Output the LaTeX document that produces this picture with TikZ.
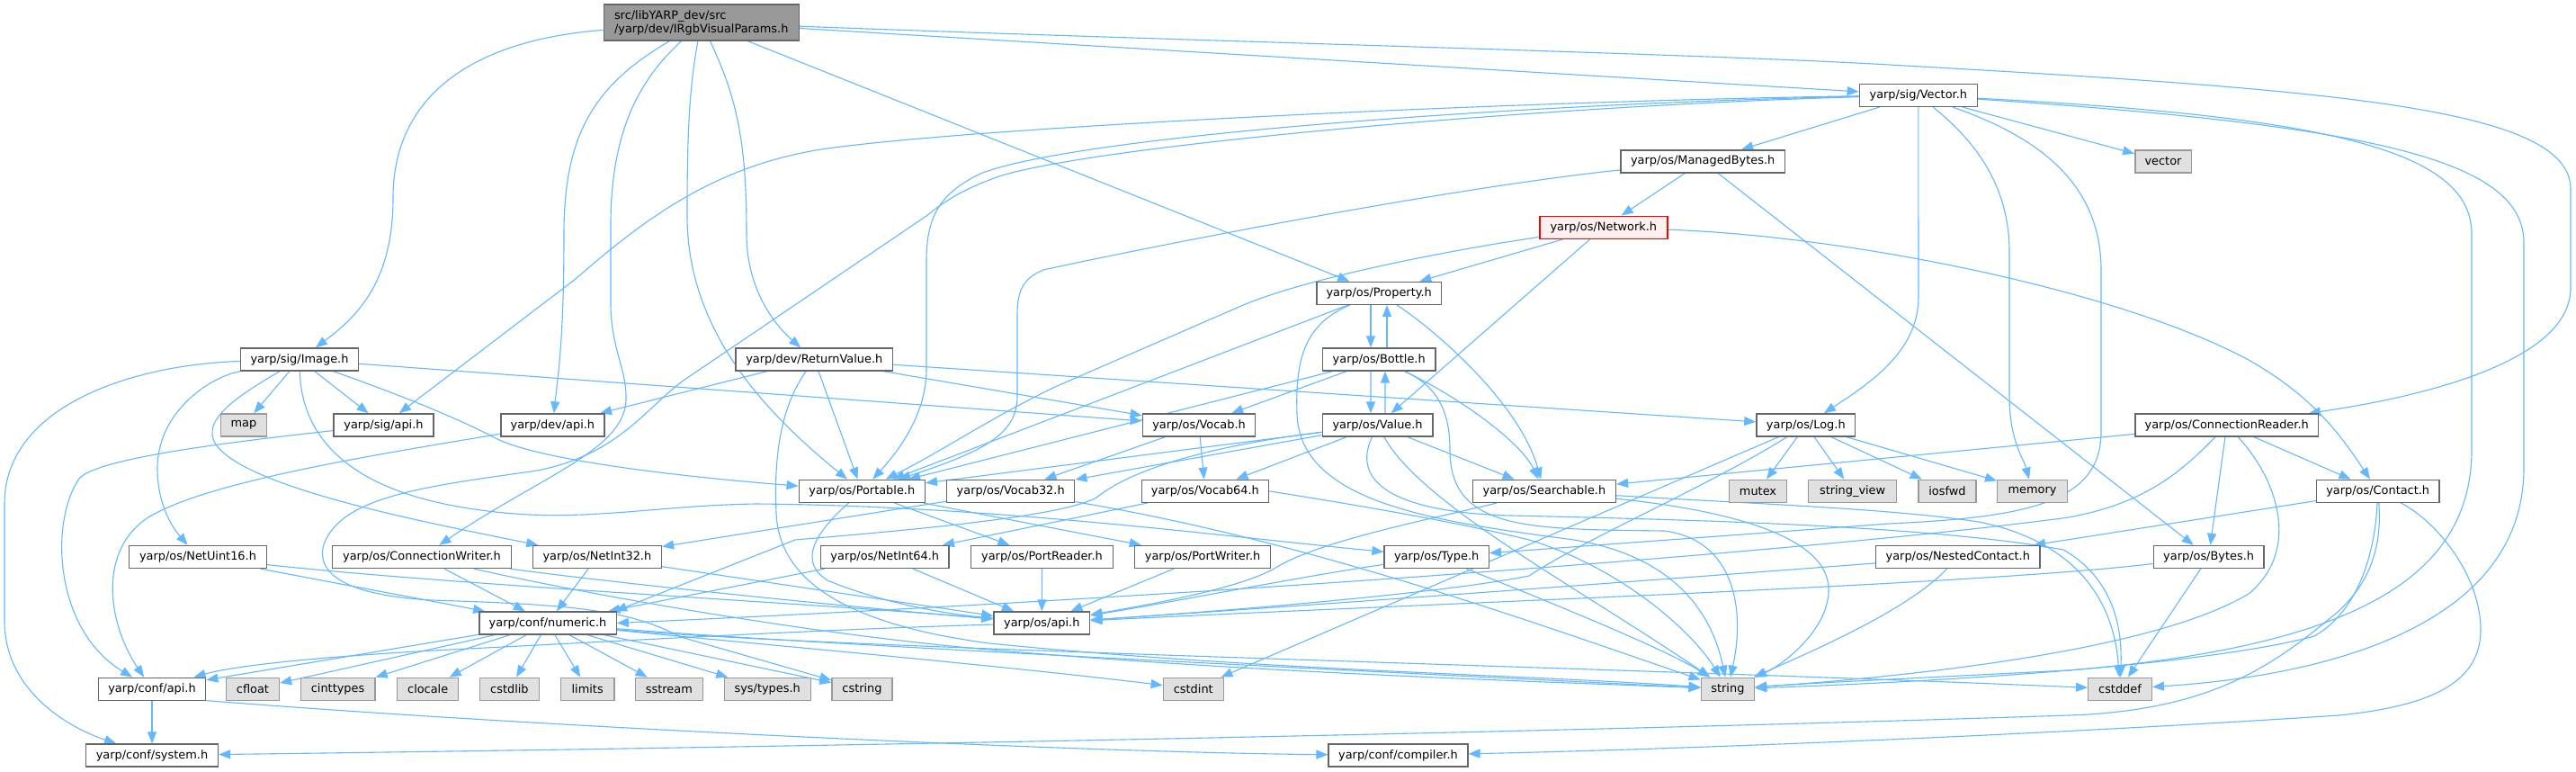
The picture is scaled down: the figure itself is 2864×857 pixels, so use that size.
\documentclass[tikz,border=0pt]{standalone}
\usepackage{fontspec}
\setmainfont{DejaVu Sans}
\usetikzlibrary{arrows.meta}
\definecolor{edgec}{HTML}{63B8FF}
\definecolor{bord}{HTML}{666666}
\definecolor{gbord}{HTML}{999999}
\definecolor{gfill}{HTML}{E0E0E0}
\definecolor{rootfill}{HTML}{999999}
\definecolor{redfill}{HTML}{FFF0F0}
\definecolor{redbord}{HTML}{FF0000}
\pgfdeclarelayer{bg}
\pgfsetlayers{bg,main}
\tikzset{
  box/.style={draw=bord, fill=white, line width=0.7pt, minimum height=12.5pt, inner sep=0pt,
    font=\fontsize{6.45pt}{7.5pt}\selectfont, text=black},
  sysbox/.style={box, draw=gbord, fill=gfill},
  rootbox/.style={box, fill=rootfill, minimum height=20pt, align=left},
  redbox/.style={box, draw=redbord, fill=redfill},
  e/.style={draw=edgec, line width=0.55pt, -{Triangle[length=6.5pt,width=5pt]}},
}
\begin{document}
\begin{tikzpicture}[x=0.5pt,y=-0.5pt]
\useasboundingbox (0,0) rectangle (2864,857);

% ---------- nodes ----------
\node[rootbox, minimum width=108.5pt] (root) at (779.7,25) {src/libYARP\_dev/src\\/yarp/dev/IRgbVisualParams.h};
\node[box, minimum width=65.5pt] (Vector) at (2132.8,105.8) {yarp/sig/Vector.h};
\node[box, minimum width=91.4pt] (ManagedBytes) at (1893.2,179.3) {yarp/os/ManagedBytes.h};
\node[sysbox, minimum width=31.2pt] (vector) at (2405,179.3) {vector};
\node[redbox, minimum width=71pt] (Network) at (1782.8,252.7) {yarp/os/Network.h};
\node[box, minimum width=69.4pt] (Property) at (1533.2,325.8) {yarp/os/Property.h};
\node[box, minimum width=65.5pt] (Image) at (333,399.5) {yarp/sig/Image.h};
\node[box, minimum width=87.3pt] (ReturnValue) at (905.3,399.5) {yarp/dev/ReturnValue.h};
\node[box, minimum width=62.9pt] (Bottle) at (1533.2,399.5) {yarp/os/Bottle.h};
\node[sysbox, minimum width=25.3pt] (map) at (271,472.5) {map};
\node[box, minimum width=55.5pt] (sigapi) at (426.5,472.5) {yarp/sig/api.h};
\node[box, minimum width=57.5pt] (devapi) at (614.4,472.5) {yarp/dev/api.h};
\node[box, minimum width=62.7pt] (Vocab) at (1333,472.5) {yarp/os/Vocab.h};
\node[box, minimum width=61.3pt] (Value) at (1531.6,472.5) {yarp/os/Value.h};
\node[box, minimum width=54.9pt] (Log) at (2007.8,472.5) {yarp/os/Log.h};
\node[box, minimum width=101.9pt] (ConnReader) at (2475.7,472.5) {yarp/os/ConnectionReader.h};
\node[box, minimum width=70pt] (Portable) at (958.3,545.8) {yarp/os/Portable.h};
\node[box, minimum width=71pt] (Vocab32) at (1123.7,545.8) {yarp/os/Vocab32.h};
\node[box, minimum width=70.5pt] (Vocab64) at (1339.9,545.8) {yarp/os/Vocab64.h};
\node[box, minimum width=79.5pt] (Searchable) at (1716.9,545.8) {yarp/os/Searchable.h};
\node[sysbox, minimum width=31.9pt] (mutex) at (1954.5,545.8) {mutex};
\node[sysbox, minimum width=48.9pt] (stringview) at (2059.6,545.8) {string\_view};
\node[sysbox, minimum width=31.9pt] (iosfwd) at (2165,545.8) {iosfwd};
\node[sysbox, minimum width=38.8pt] (memory) at (2259.5,545.8) {memory};
\node[box, minimum width=68.2pt] (Contact) at (2643.7,545.8) {yarp/os/Contact.h};
\node[box, minimum width=76.3pt] (NetUint16) at (220,619) {yarp/os/NetUint16.h};
\node[box, minimum width=99.5pt] (ConnWriter) at (469,619) {yarp/os/ConnectionWriter.h};
\node[box, minimum width=71.5pt] (NetInt32) at (663.9,619) {yarp/os/NetInt32.h};
\node[box, minimum width=71.2pt] (NetInt64) at (983.8,619) {yarp/os/NetInt64.h};
\node[box, minimum width=78.8pt] (PortReader) at (1158.5,619) {yarp/os/PortReader.h};
\node[box, minimum width=75.5pt] (PortWriter) at (1337.1,619) {yarp/os/PortWriter.h};
\node[box, minimum width=58.1pt] (Type) at (1597.2,619) {yarp/os/Type.h};
\node[box, minimum width=91.2pt] (NestedContact) at (2176.8,619) {yarp/os/NestedContact.h};
\node[box, minimum width=61.4pt] (Bytes) at (2455.6,619) {yarp/os/Bytes.h};
\node[box, minimum width=76.2pt] (numeric) at (609,692.5) {yarp/conf/numeric.h};
\node[box, minimum width=53.3pt] (osapi) at (1158.3,692.5) {yarp/os/api.h};
\node[box, minimum width=59.7pt] (confapi) at (169,765.8) {yarp/conf/api.h};
\node[sysbox, minimum width=29.5pt] (cfloat) at (281,765.8) {cfloat};
\node[sysbox, minimum width=41.4pt] (cinttypes) at (375.6,765.8) {cinttypes};
\node[sysbox, minimum width=34pt] (clocale) at (475.7,765.8) {clocale};
\node[sysbox, minimum width=32.9pt] (cstdlib) at (566.4,765.8) {cstdlib};
\node[sysbox, minimum width=29.6pt] (limits) at (653.2,765.8) {limits};
\node[sysbox, minimum width=37.5pt] (sstream) at (743.9,765.8) {sstream};
\node[sysbox, minimum width=48pt] (systypes) at (853.2,765.8) {sys/types.h};
\node[sysbox, minimum width=33.5pt] (cstring) at (958.5,765.8) {cstring};
\node[sysbox, minimum width=33.5pt] (cstdint) at (1326.8,765.8) {cstdint};
\node[sysbox, minimum width=29.6pt] (string) at (1920.9,765.8) {string};
\node[sysbox, minimum width=35.3pt] (cstddef) at (2357,765.8) {cstddef};
\node[box, minimum width=73.5pt] (system) at (169,839.5) {yarp/conf/system.h};
\node[box, minimum width=77.4pt] (compiler) at (1554.5,839.5) {yarp/conf/compiler.h};

% ---------- edges ----------
\begin{pgfonlayer}{bg}
\fill[white] (0,0) rectangle (2864,857);
% root
\draw[e] (root) .. controls (520,45) and (437,110) .. (437,220) .. controls (437,310) and (400,350) .. (Image);
\draw[e] (root) .. controls (660,95) and (627,150) .. (627,260) .. controls (627,380) and (620,420) .. (devapi);
\draw[e] (root) .. controls (715,85) and (679,140) .. (679,250) -- (679,340) .. controls (680,390) and (697,410) .. (696,445) .. controls (694,500) and (600,530) .. (ConnWriter);
\draw[e] (root) .. controls (766,100) and (764,150) .. (764,240) .. controls (764,360) and (840,450) .. (Portable);
\draw[e] (root) .. controls (820,110) and (830,160) .. (830,260) .. controls (830,320) and (860,360) .. (ReturnValue);
\draw[e] (root) -- (Property);
\draw[e] (root) .. controls (1300,45) and (1900,60) .. (2100,72) .. controls (2600,100) and (2858,120) .. (2858,210) -- (2858,320) .. controls (2858,400) and (2700,440) .. (ConnReader);
\draw[e] (root) -- (Vector);
% Image
\draw[e] (Image) .. controls (150,405) and (5,450) .. (5,560) -- (5,690) .. controls (5,770) and (80,810) .. (system);
\draw[e] (Image) .. controls (230,420) and (175,460) .. (175,520) .. controls (175,565) and (195,590) .. (NetUint16);
\draw[e] (Image) .. controls (265,440) and (215,470) .. (245,500) .. controls (290,545) and (470,580) .. (NetInt32);
\draw[e] (Image) -- (map);
\draw[e] (Image) .. controls (335,480) and (380,545) .. (528,566) .. controls (640,583) and (720,562) .. (840,560) .. controls (1100,562) and (1350,595) .. (Type);
\draw[e] (Image) -- (sigapi);
\draw[e] (Image) .. controls (420,430) and (500,460) .. (551,487) .. controls (600,512) and (760,530) .. (Portable);
\draw[e] (Image) -- (Vocab);
% api
\draw[e] (sigapi) .. controls (220,495) and (105,512) .. (88,532) .. controls (55,580) and (60,700) .. (confapi);
\draw[e] (devapi) .. controls (420,505) and (230,535) .. (165,575) .. controls (110,610) and (118,690) .. (confapi);
% ReturnValue
\draw[e] (ReturnValue) -- (devapi);
\draw[e] (ReturnValue) -- (Portable);
\draw[e] (ReturnValue) -- (Vocab);
\draw[e] (ReturnValue) -- (Log);
\draw[e] (ReturnValue) .. controls (870,450) and (860,500) .. (863,570) .. controls (866,650) and (950,695) .. (1100,715) .. controls (1400,745) and (1700,750) .. (string);
% Vector
\draw[e] (Vector) -- (ManagedBytes);
\draw[e] (Vector) -- (vector);
\draw[e] (Vector) .. controls (1700,112) and (1100,140) .. (920,165) .. controls (800,182) and (720,240) .. (640,310) -- (sigapi);
\draw[e] (Vector) .. controls (1700,115) and (1200,150) .. (1090,193) .. controls (1045,215) and (1030,240) .. (1030,290) -- (1030,410) .. controls (1030,460) and (1000,500) .. (Portable);
\draw[e] (Vector) .. controls (1700,118) and (1180,165) .. (1100,200) .. controls (1060,215) and (1040,232) .. (1030,240) -- (764,420) .. controls (720,450) and (690,505) .. (597,523) .. controls (480,540) and (380,550) .. (360,605) .. controls (350,640) and (390,662) .. (480,667) .. controls (640,672) and (700,678) .. (757,708) -- (cstring);
\draw[e] (Vector) -- (2133,330) .. controls (2133,390) and (2080,425) .. (Log);
\draw[e] (Vector) .. controls (2200,160) and (2234,210) .. (2234,280) -- (2234,440) .. controls (2234,490) and (2250,510) .. (memory);
\draw[e] (Vector) .. controls (2260,150) and (2336,200) .. (2336,300) -- (2336,480) .. controls (2336,560) and (2250,575) .. (2100,582) -- (Type);
\draw[e] (Vector) .. controls (2600,130) and (2748,170) .. (2748,260) -- (2748,500) .. controls (2748,650) and (2600,720) .. (2300,745) .. controls (2100,755) and (2000,760) .. (string);
\draw[e] (Vector) .. controls (2650,140) and (2806,180) .. (2806,270) -- (2806,520) .. controls (2806,690) and (2600,750) .. (cstddef);
% ManagedBytes
\draw[e] (ManagedBytes) -- (Network);
\draw[e] (ManagedBytes) -- (Bytes);
\draw[e] (ManagedBytes) .. controls (1600,210) and (1250,280) .. (1160,300) .. controls (1135,310) and (1131,327) .. (1131,350) -- (1131,440) .. controls (1131,480) and (1100,500) .. (Portable);
% Network
\draw[e] (Network) -- (Property);
\draw[e] (Network) -- (Value);
\draw[e] (Network) .. controls (1600,280) and (1450,310) .. (1380,340) -- (1173,430) .. controls (1100,465) and (1050,500) .. (Portable);
\draw[e] (Network) .. controls (2050,262) and (2350,320) .. (2500,400) .. controls (2570,440) and (2600,480) .. (Contact);
% Property
\draw[e] ([xshift=-4.6pt]Property.south) -- ([xshift=-4.6pt]Bottle.north);
\draw[e] ([xshift=4.4pt]Bottle.north) -- ([xshift=4.4pt]Property.south);
\draw[e] (Property) -- (Portable);
\draw[e] (Property) .. controls (1600,370) and (1690,450) .. (Searchable);
\draw[e] (Property) .. controls (1450,360) and (1440,400) .. (1442,460) .. controls (1445,560) and (1600,580) .. (1750,600) .. controls (1870,620) and (1905,690) .. (string);
% Bottle
\draw[e] ([xshift=-4.6pt]Bottle.south) -- ([xshift=-3.8pt]Value.north);
\draw[e] ([xshift=4.2pt]Value.north) -- ([xshift=3.4pt]Bottle.south);
\draw[e] (Bottle) -- (Portable);
\draw[e] (Bottle) -- (Vocab);
\draw[e] (Bottle) .. controls (1620,440) and (1690,490) .. (Searchable);
\draw[e] (Bottle) .. controls (1600,430) and (1612,460) .. (1612,500) .. controls (1612,590) and (1700,588) .. (1850,590) .. controls (1930,600) and (1940,680) .. (string);
% Value
\draw[e] (Value) -- (Portable);
\draw[e] (Value) -- (Vocab32);
\draw[e] (Value) -- (Vocab64);
\draw[e] (Value) -- (Searchable);
\draw[e] (Value) .. controls (1350,495) and (1260,520) .. (1219,553) .. controls (1180,575) and (1000,590) .. (884,600) -- (numeric.10);
\draw[e] (Value) .. controls (1580,560) and (1750,650) .. (string);
\draw[e] (Value) .. controls (1500,540) and (1560,570) .. (1680,573) .. controls (1900,578) and (2150,585) .. (2294,611) .. controls (2345,640) and (2360,690) .. (cstddef);
% Searchable
\draw[e] (Searchable) .. controls (1600,575) and (1470,600) .. (1420,630) .. controls (1380,655) and (1260,675) .. (osapi);
\draw[e] (Searchable) .. controls (1900,565) and (2030,590) .. (2033,653) .. controls (2035,700) and (1980,740) .. (string);
\draw[e] (Searchable) .. controls (1950,560) and (2100,565) .. (2200,580) .. controls (2300,600) and (2350,660) .. (cstddef);
% Log
\draw[e] (Log) -- (mutex);
\draw[e] (Log) -- (stringview);
\draw[e] (Log) -- (iosfwd);
\draw[e] (Log) -- (memory);
\draw[e] (Log) -- (cstdint);
\draw[e] (Log) .. controls (1900,540) and (1760,600) .. (1700,640) .. controls (1600,660) and (1350,680) .. (osapi);
% ConnectionReader
\draw[e] (ConnReader) -- (Searchable);
\draw[e] (ConnReader) -- (Bytes);
\draw[e] (ConnReader) -- (Contact);
\draw[e] (ConnReader) .. controls (2420,530) and (2380,560) .. (2300,575) .. controls (2000,615) and (1300,665) .. (numeric.east);
\draw[e] (ConnReader) .. controls (2530,530) and (2560,610) .. (2500,660) .. controls (2400,720) and (2150,750) .. (string);
% Contact
\draw[e] (Contact) -- (NestedContact);
\draw[e] (Contact) .. controls (2640,620) and (2620,680) .. (2573,707) .. controls (2450,740) and (2150,758) .. (string);
\draw[e] (Contact) .. controls (2648,600) and (2640,650) .. (2587,690) .. controls (2520,745) and (2450,790) .. (2300,795) .. controls (1700,815) and (900,830) .. (system);
\draw[e] (Contact) .. controls (2710,580) and (2758,640) .. (2758,700) .. controls (2758,760) and (2700,785) .. (2600,795) .. controls (2300,815) and (1900,832) .. (compiler);
% Bytes, NestedContact, Type
\draw[e] (Bytes) -- (cstddef);
\draw[e] (Bytes) .. controls (2200,650) and (1600,670) .. (osapi);
\draw[e] (NestedContact) .. controls (2120,680) and (2000,730) .. (string);
\draw[e] (NestedContact) .. controls (1900,640) and (1500,670) .. (osapi);
\draw[e] (Type) .. controls (1450,640) and (1300,670) .. (osapi);
\draw[e] (Type) .. controls (1700,660) and (1850,720) .. (string);
% Portable
\draw[e] (Portable) -- (PortReader);
\draw[e] (Portable) -- (PortWriter);
\draw[e] (Portable) .. controls (920,580) and (880,620) .. (920,645) .. controls (980,670) and (1050,682) .. (osapi);
\draw[e] (PortReader) -- (osapi);
\draw[e] (PortWriter) -- (osapi);
% Vocab
\draw[e] (Vocab) -- (Vocab32);
\draw[e] (Vocab) -- (Vocab64);
\draw[e] (Vocab32) -- (NetInt32);
\draw[e] (Vocab32) .. controls (1450,600) and (1700,690) .. (string);
\draw[e] (Vocab64) -- (NetInt64);
\draw[e] (Vocab64.east) .. controls (1500,560) and (1620,580) .. (1700,600) .. controls (1800,630) and (1880,700) .. (string);
% Net*
\draw[e] (NetInt32) -- (numeric);
\draw[e] (NetInt32) -- (osapi);
\draw[e] (NetInt64) -- (numeric);
\draw[e] (NetInt64) -- (osapi);
\draw[e] (NetUint16) -- (numeric);
\draw[e] (NetUint16) .. controls (500,650) and (900,670) .. (osapi);
\draw[e] (ConnWriter) -- (numeric);
\draw[e] (ConnWriter) .. controls (700,650) and (950,675) .. (osapi);
\draw[e] (ConnWriter) .. controls (650,660) and (900,705) .. (1100,722) .. controls (1400,748) and (1700,757) .. (string);
% os/api
\draw[e] (osapi) .. controls (900,700) and (700,712) .. (500,722) .. controls (350,730) and (260,740) .. (confapi);
% numeric
\draw[e] (numeric) -- (confapi);
\draw[e] (numeric) -- (cfloat);
\draw[e] (numeric) -- (cinttypes);
\draw[e] (numeric) -- (clocale);
\draw[e] (numeric) -- (cstdlib);
\draw[e] (numeric) -- (limits);
\draw[e] (numeric) -- (sstream);
\draw[e] (numeric) -- (systypes);
\draw[e] (numeric) -- (cstring);
\draw[e] (numeric) .. controls (800,712) and (1100,738) .. (cstdint);
\draw[e] (numeric) .. controls (900,716) and (1500,745) .. (string);
\draw[e] (numeric) .. controls (900,720) and (1800,742) .. (cstddef);
% conf/api
\draw[e] (confapi) -- (system);
\draw[e] (confapi.-12) .. controls (600,808) and (1200,836) .. (compiler);
\end{pgfonlayer}
\end{tikzpicture}
\end{document}
